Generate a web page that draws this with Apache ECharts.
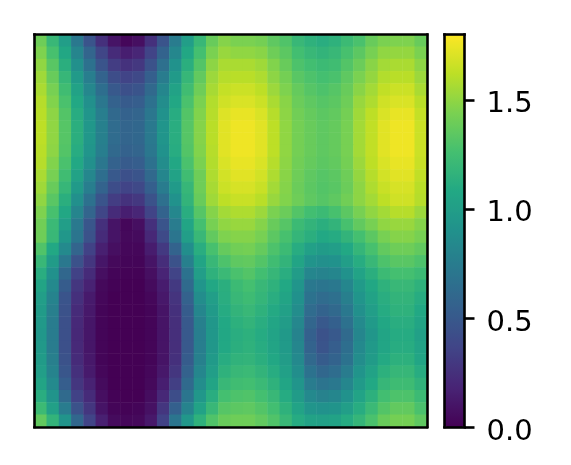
<!DOCTYPE html>
<html>
<head>
<meta charset="utf-8">
<style>html,body{margin:0;padding:0;background:#fff}#c{width:571px;height:465px}</style>
<script src="https://cdn.jsdelivr.net/npm/echarts@6/dist/echarts.min.js"></script>
</head>
<body>
<div id="c"></div>
<script>
const colLabels = Array.from({length:32},(_,i)=>String(i));
const rowLabels = Array.from({length:32},(_,i)=>String(i));
const colorbarTicks = [0,0.5,1.0,1.5];
const viridis = ['#440154','#482475','#414487','#355f8d','#2a788e','#21918c','#22a884','#44bf70','#7ad151','#bddf26','#fde725'];
const valueRows = [
[1.40,1.20,1.00,.72,.47,.25,.10,.03,.07,.25,.47,.75,1.00,1.20,1.38,1.47,1.44,1.44,1.42,1.35,1.30,1.20,1.15,1.12,1.15,1.22,1.28,1.38,1.44,1.45,1.45,1.38],
[1.45,1.27,1.07,.81,.58,.37,.22,.15,.19,.36,.57,.83,1.07,1.26,1.44,1.52,1.50,1.50,1.48,1.40,1.34,1.25,1.20,1.17,1.20,1.27,1.34,1.43,1.50,1.51,1.51,1.44],
[1.50,1.33,1.13,.89,.67,.47,.32,.26,.29,.45,.66,.91,1.13,1.31,1.49,1.57,1.57,1.57,1.54,1.46,1.38,1.29,1.25,1.22,1.24,1.31,1.39,1.48,1.55,1.57,1.57,1.49],
[1.54,1.38,1.19,.97,.76,.57,.42,.36,.39,.54,.75,.97,1.19,1.36,1.53,1.60,1.61,1.61,1.58,1.49,1.42,1.33,1.29,1.26,1.28,1.35,1.44,1.51,1.59,1.61,1.61,1.53],
[1.57,1.43,1.24,1.03,.83,.65,.50,.44,.47,.61,.82,1.03,1.24,1.40,1.56,1.64,1.66,1.66,1.62,1.53,1.45,1.37,1.32,1.29,1.32,1.38,1.48,1.55,1.63,1.66,1.66,1.57],
[1.60,1.46,1.28,1.08,.89,.71,.56,.51,.53,.67,.87,1.07,1.28,1.44,1.59,1.67,1.70,1.70,1.66,1.57,1.48,1.39,1.35,1.32,1.34,1.40,1.52,1.58,1.67,1.70,1.70,1.61],
[1.61,1.49,1.31,1.11,.93,.76,.61,.56,.58,.71,.91,1.11,1.31,1.46,1.60,1.71,1.74,1.74,1.70,1.60,1.49,1.41,1.37,1.34,1.36,1.42,1.54,1.62,1.70,1.74,1.74,1.64],
[1.62,1.50,1.32,1.13,.95,.78,.63,.58,.60,.73,.93,1.12,1.32,1.47,1.61,1.72,1.76,1.76,1.72,1.62,1.50,1.42,1.38,1.35,1.37,1.43,1.55,1.63,1.72,1.76,1.76,1.66],
[1.62,1.50,1.32,1.13,.95,.78,.63,.58,.60,.73,.93,1.12,1.32,1.47,1.61,1.72,1.76,1.76,1.72,1.62,1.50,1.42,1.38,1.35,1.37,1.43,1.55,1.63,1.72,1.76,1.76,1.66],
[1.61,1.49,1.31,1.11,.93,.76,.61,.56,.58,.71,.91,1.11,1.31,1.46,1.60,1.72,1.76,1.76,1.72,1.62,1.50,1.42,1.38,1.35,1.37,1.43,1.55,1.63,1.72,1.76,1.76,1.66],
[1.60,1.46,1.28,1.08,.89,.71,.56,.51,.53,.67,.87,1.07,1.28,1.44,1.59,1.70,1.74,1.74,1.70,1.60,1.49,1.41,1.37,1.34,1.36,1.42,1.53,1.62,1.70,1.74,1.74,1.65],
[1.57,1.43,1.24,1.03,.83,.65,.50,.44,.47,.61,.82,1.03,1.24,1.40,1.58,1.68,1.72,1.72,1.68,1.58,1.48,1.40,1.35,1.32,1.34,1.40,1.51,1.60,1.68,1.72,1.72,1.63],
[1.54,1.38,1.19,.97,.76,.57,.42,.36,.39,.54,.75,.97,1.19,1.40,1.56,1.66,1.69,1.69,1.65,1.55,1.47,1.39,1.34,1.31,1.33,1.39,1.49,1.58,1.65,1.69,1.69,1.61],
[1.50,1.33,1.13,.89,.67,.47,.32,.26,.29,.45,.66,.91,1.17,1.38,1.54,1.62,1.65,1.65,1.61,1.52,1.46,1.40,1.35,1.32,1.35,1.41,1.49,1.55,1.62,1.67,1.67,1.60],
[1.45,1.27,1.07,.81,.58,.37,.22,.15,.19,.36,.57,.83,1.12,1.32,1.47,1.55,1.58,1.58,1.53,1.44,1.39,1.31,1.25,1.22,1.27,1.34,1.43,1.50,1.55,1.60,1.60,1.53],
[1.41,1.21,1.00,.73,.48,.25,.10,.03,.07,.25,.47,.75,1.06,1.26,1.43,1.50,1.52,1.52,1.47,1.38,1.32,1.22,1.17,1.13,1.17,1.27,1.36,1.43,1.50,1.52,1.52,1.47],
[1.40,1.20,.95,.70,.45,.22,.10,.04,.05,.20,.40,.70,1.00,1.20,1.36,1.45,1.47,1.47,1.43,1.34,1.27,1.18,1.13,1.08,1.10,1.17,1.26,1.34,1.43,1.47,1.47,1.43],
[1.30,1.08,.85,.58,.35,.16,.07,.03,.03,.14,.30,.57,.88,1.12,1.27,1.37,1.41,1.42,1.37,1.29,1.22,1.11,1.02,.98,1.00,1.08,1.18,1.27,1.36,1.40,1.40,1.36],
[1.20,.98,.72,.45,.28,.11,.04,.02,.02,.10,.23,.45,.78,1.05,1.20,1.29,1.35,1.36,1.31,1.24,1.17,1.05,.92,.89,.91,1.00,1.11,1.20,1.29,1.33,1.33,1.29],
[1.12,.90,.60,.35,.22,.07,.02,.01,.01,.07,.18,.36,.68,1.00,1.15,1.21,1.28,1.31,1.25,1.19,1.12,.99,.82,.80,.82,.91,1.04,1.13,1.22,1.26,1.26,1.22],
[1.05,.84,.52,.28,.17,.04,.01,0,0,.05,.14,.30,.62,.93,1.07,1.13,1.22,1.26,1.20,1.15,1.08,.93,.72,.70,.72,.82,.97,1.07,1.15,1.20,1.20,1.15],
[1.00,.80,.47,.25,.13,.03,0,0,0,.03,.12,.27,.56,.87,1.00,1.12,1.20,1.23,1.18,1.12,1.05,.90,.68,.63,.66,.77,.93,1.03,1.12,1.17,1.17,1.11],
[.98,.77,.45,.22,.12,.02,0,0,0,.02,.10,.25,.52,.82,.97,1.10,1.17,1.20,1.15,1.09,1.02,.87,.63,.57,.61,.72,.89,1.00,1.10,1.15,1.15,1.08],
[.96,.75,.44,.21,.11,.02,0,0,0,.02,.10,.24,.50,.78,.95,1.08,1.14,1.17,1.12,1.06,.99,.83,.59,.50,.55,.67,.85,.97,1.07,1.12,1.12,1.05],
[.95,.75,.44,.20,.11,.02,0,0,0,.02,.10,.24,.50,.76,.95,1.07,1.12,1.14,1.10,1.04,.96,.80,.55,.45,.50,.62,.82,.94,1.05,1.10,1.10,1.02],
[.96,.75,.44,.21,.11,.02,0,0,0,.02,.10,.24,.50,.76,.95,1.08,1.13,1.15,1.11,1.05,.97,.82,.57,.47,.53,.65,.84,.96,1.06,1.11,1.11,1.04],
[.98,.77,.45,.22,.12,.02,0,0,0,.02,.10,.25,.52,.78,.97,1.11,1.16,1.17,1.13,1.07,.99,.84,.61,.52,.57,.68,.87,.98,1.09,1.14,1.14,1.06],
[1.00,.80,.48,.25,.13,.03,0,0,0,.03,.12,.28,.56,.82,1.00,1.15,1.20,1.21,1.17,1.11,1.02,.88,.68,.60,.64,.75,.92,1.03,1.14,1.19,1.19,1.11],
[1.05,.85,.53,.28,.17,.05,0,0,0,.04,.15,.33,.62,.87,1.05,1.20,1.24,1.25,1.21,1.15,1.06,.93,.75,.69,.72,.82,.97,1.08,1.19,1.23,1.23,1.16],
[1.12,.92,.62,.35,.22,.07,.01,0,0,.06,.20,.42,.70,.95,1.12,1.26,1.29,1.30,1.26,1.20,1.10,.98,.84,.79,.82,.91,1.04,1.14,1.25,1.29,1.29,1.22],
[1.22,1.02,.75,.45,.28,.10,.02,.01,.02,.08,.28,.55,.80,1.03,1.20,1.32,1.34,1.35,1.31,1.25,1.15,1.04,.93,.91,.92,1.00,1.11,1.21,1.31,1.36,1.36,1.28],
[1.36,1.17,.92,.60,.36,.16,.05,.03,.04,.12,.35,.70,.95,1.15,1.30,1.38,1.40,1.40,1.36,1.30,1.20,1.10,1.03,1.02,1.03,1.10,1.18,1.28,1.38,1.42,1.42,1.35]
];
const heatData = [];
valueRows.forEach((row,r)=>row.forEach((v,c)=>heatData.push([c,r,v])));

const frameLine = {show:true,onZero:false,lineStyle:{color:'#000',width:2.6,cap:'square'}};
const chart = echarts.init(document.getElementById('c'),null,{renderer:'canvas'});
chart.setOption({
  animation:false,
  backgroundColor:'#fff',
  tooltip:{show:false},
  grid:[
    {left:34.5,top:34.5,width:392.5,height:392.5},
    {left:444.5,top:34.5,width:20,height:392.5}
  ],
  xAxis:[
    {type:'category',gridIndex:0,data:colLabels,position:'bottom',z:10,axisLine:frameLine,axisTick:{show:false},axisLabel:{show:false},splitLine:{show:false},splitArea:{show:false}},
    {type:'category',gridIndex:0,data:colLabels,position:'top',z:10,axisLine:frameLine,axisTick:{show:false},axisLabel:{show:false},splitLine:{show:false}},
    {type:'value',gridIndex:1,min:0,max:1,position:'bottom',z:10,axisLine:frameLine,axisTick:{show:false},axisLabel:{show:false},splitLine:{show:false}},
    {type:'value',gridIndex:1,min:0,max:1,position:'top',z:10,axisLine:frameLine,axisTick:{show:false},axisLabel:{show:false},splitLine:{show:false}}
  ],
  yAxis:[
    {type:'category',gridIndex:0,data:rowLabels,inverse:true,position:'left',z:10,axisLine:frameLine,axisTick:{show:false},axisLabel:{show:false},splitLine:{show:false},splitArea:{show:false}},
    {type:'category',gridIndex:0,data:rowLabels,inverse:true,position:'right',z:10,axisLine:frameLine,axisTick:{show:false},axisLabel:{show:false},splitLine:{show:false}},
    {type:'value',gridIndex:1,min:0,max:1.8,position:'left',z:10,axisLine:frameLine,axisTick:{show:false},axisLabel:{show:false},splitLine:{show:false}},
    {type:'value',gridIndex:1,min:0,max:1.8,position:'right',z:10,axisLine:frameLine,
      axisTick:{show:true,length:10,customValues:colorbarTicks,lineStyle:{color:'#000',width:2.6}},
      axisLabel:{show:true,customValues:colorbarTicks,margin:22,verticalAlign:'top',lineHeight:10,color:'#000',fontFamily:'DejaVu Sans',fontSize:29,formatter:v=>Number(v).toFixed(1)},
      splitLine:{show:false}}
  ],
  visualMap:{
    type:'continuous',seriesIndex:0,min:0,max:1.8,left:444.5,top:34.5,padding:0,
    itemWidth:20,itemHeight:392.5,calculable:false,realtime:false,hoverLink:false,
    inRange:{color:viridis},text:null,z:4
  },
  series:[{
    type:'heatmap',xAxisIndex:0,yAxisIndex:0,data:heatData,silent:true,progressive:0,
    itemStyle:{borderWidth:0},emphasis:{disabled:true}
  }]
});
</script>
</body>
</html>
